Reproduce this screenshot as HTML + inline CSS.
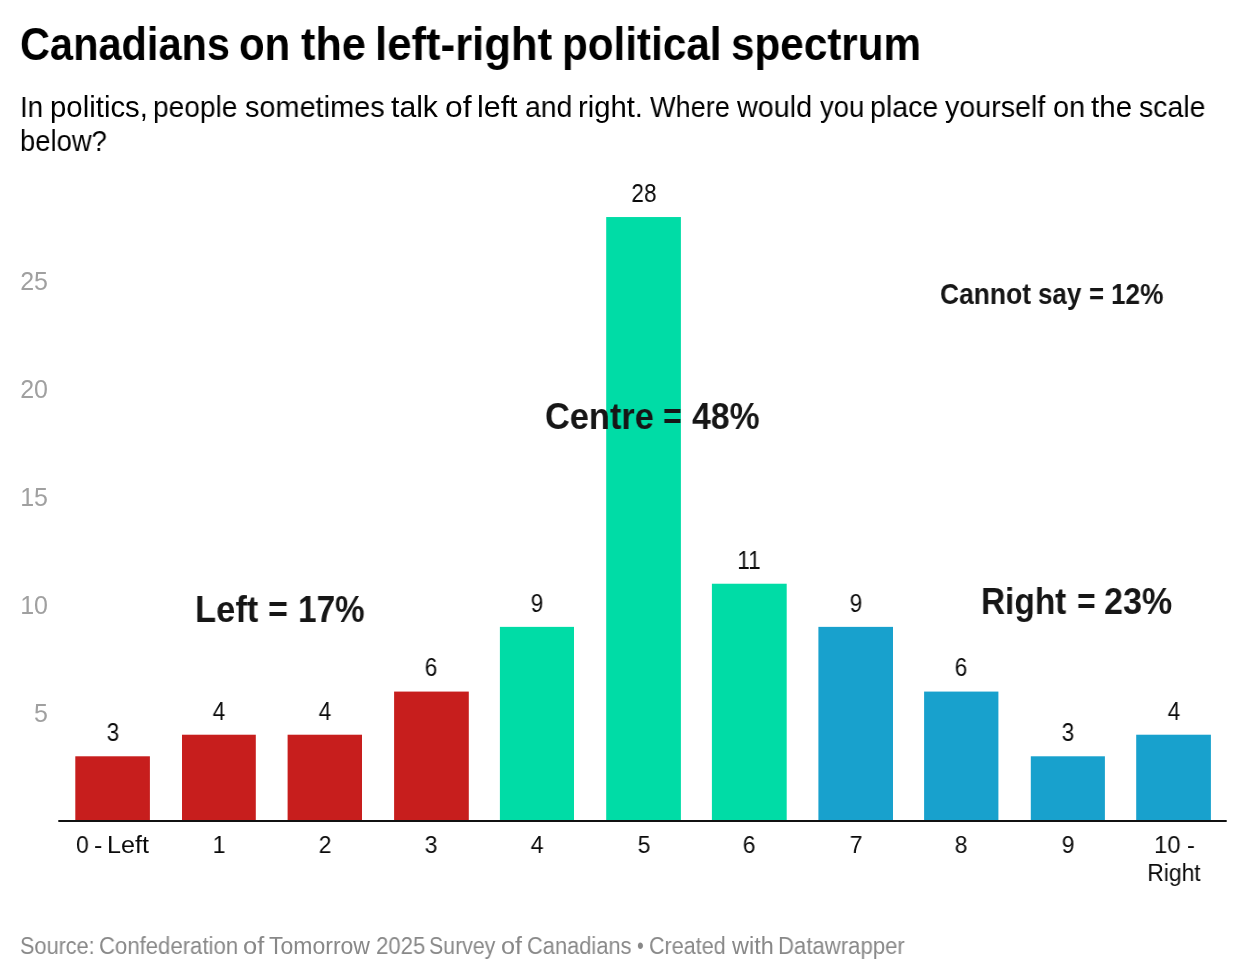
<!DOCTYPE html>
<html><head><meta charset="utf-8">
<style>
html,body{margin:0;padding:0;background:#fff;}
body{width:1247px;height:980px;position:relative;overflow:hidden;font-family:"Liberation Sans",sans-serif;}
.t{position:absolute;white-space:nowrap;line-height:1;will-change:transform;}
.w{position:absolute;white-space:nowrap;line-height:1;will-change:transform;transform-origin:0 0;}
svg{position:absolute;left:0;top:0;}
</style></head><body>
<svg width="1247" height="980" viewBox="0 0 1247 980">
<rect x="75.30" y="756.29" width="74.60" height="65.21" fill="#c71e1d"/>
<rect x="182.00" y="734.72" width="73.80" height="86.78" fill="#c71e1d"/>
<rect x="287.60" y="734.72" width="74.40" height="86.78" fill="#c71e1d"/>
<rect x="394.10" y="691.58" width="74.70" height="129.92" fill="#c71e1d"/>
<rect x="499.90" y="626.87" width="74.10" height="194.63" fill="#00dca6"/>
<rect x="606.20" y="217.04" width="74.70" height="604.46" fill="#00dca6"/>
<rect x="711.90" y="583.73" width="74.80" height="237.77" fill="#00dca6"/>
<rect x="818.40" y="626.87" width="74.60" height="194.63" fill="#18a1cd"/>
<rect x="924.10" y="691.58" width="74.30" height="129.92" fill="#18a1cd"/>
<rect x="1030.80" y="756.29" width="74.10" height="65.21" fill="#18a1cd"/>
<rect x="1136.20" y="734.72" width="74.70" height="86.78" fill="#18a1cd"/>
<rect x="58.3" y="820" width="1168.4" height="2" fill="#111"/>
</svg>
<div class="w" style="left:19.99px;top:21.98px;font-size:45.5px;font-weight:700;color:#000;transform:scaleX(0.9127)">Canadians</div>
<div class="w" style="left:239.36px;top:21.98px;font-size:45.5px;font-weight:700;color:#000;transform:scaleX(0.9211)">on</div>
<div class="w" style="left:300.51px;top:21.98px;font-size:45.5px;font-weight:700;color:#000;transform:scaleX(0.9497)">the</div>
<div class="w" style="left:374.53px;top:21.98px;font-size:45.5px;font-weight:700;color:#000;transform:scaleX(0.9607)">left-right</div>
<div class="w" style="left:561.85px;top:21.98px;font-size:45.5px;font-weight:700;color:#000;transform:scaleX(0.9278)">political</div>
<div class="w" style="left:731.37px;top:21.98px;font-size:45.5px;font-weight:700;color:#000;transform:scaleX(0.9285)">spectrum</div>
<div class="w" style="left:19.80px;top:92.78px;font-size:29.2px;font-weight:400;color:#000;transform:scaleX(0.9547)">In</div>
<div class="w" style="left:50.02px;top:92.78px;font-size:29.2px;font-weight:400;color:#000;transform:scaleX(1.0063)">politics,</div>
<div class="w" style="left:153.35px;top:92.78px;font-size:29.2px;font-weight:400;color:#000;transform:scaleX(0.9620)">people</div>
<div class="w" style="left:245.11px;top:92.78px;font-size:29.2px;font-weight:400;color:#000;transform:scaleX(0.9899)">sometimes</div>
<div class="w" style="left:391.03px;top:92.78px;font-size:29.2px;font-weight:400;color:#000;transform:scaleX(1.0339)">talk</div>
<div class="w" style="left:444.71px;top:92.78px;font-size:29.2px;font-weight:400;color:#000;transform:scaleX(1.0908)">of</div>
<div class="w" style="left:477.04px;top:92.78px;font-size:29.2px;font-weight:400;color:#000;transform:scaleX(1.0417)">left</div>
<div class="w" style="left:524.75px;top:92.78px;font-size:29.2px;font-weight:400;color:#000;transform:scaleX(0.9703)">and</div>
<div class="w" style="left:578.25px;top:92.78px;font-size:29.2px;font-weight:400;color:#000;transform:scaleX(1.0015)">right.</div>
<div class="w" style="left:650.39px;top:92.78px;font-size:29.2px;font-weight:400;color:#000;transform:scaleX(0.9291)">Where</div>
<div class="w" style="left:737.33px;top:92.78px;font-size:29.2px;font-weight:400;color:#000;transform:scaleX(0.9859)">would</div>
<div class="w" style="left:819.55px;top:92.78px;font-size:29.2px;font-weight:400;color:#000;transform:scaleX(0.9434)">you</div>
<div class="w" style="left:870.32px;top:92.78px;font-size:29.2px;font-weight:400;color:#000;transform:scaleX(0.9785)">place</div>
<div class="w" style="left:945.38px;top:92.78px;font-size:29.2px;font-weight:400;color:#000;transform:scaleX(0.9825)">yourself</div>
<div class="w" style="left:1052.82px;top:92.78px;font-size:29.2px;font-weight:400;color:#000;transform:scaleX(0.9887)">on</div>
<div class="w" style="left:1090.72px;top:92.78px;font-size:29.2px;font-weight:400;color:#000;transform:scaleX(1.0131)">the</div>
<div class="w" style="left:1138.52px;top:92.78px;font-size:29.2px;font-weight:400;color:#000;transform:scaleX(0.9741)">scale</div>
<div class="w" style="left:19.87px;top:127.08px;font-size:29.2px;font-weight:400;color:#000;transform:scaleX(0.9387)">below?</div>
<div class="w" style="left:19.70px;top:935.23px;font-size:23.0px;font-weight:400;color:#888;transform:scaleX(0.9426)">Source:</div>
<div class="w" style="left:99.42px;top:935.23px;font-size:23.0px;font-weight:400;color:#888;transform:scaleX(0.9626)">Confederation</div>
<div class="w" style="left:242.58px;top:935.23px;font-size:23.0px;font-weight:400;color:#888;transform:scaleX(1.1069)">of</div>
<div class="w" style="left:268.64px;top:935.23px;font-size:23.0px;font-weight:400;color:#888;transform:scaleX(0.9996)">Tomorrow</div>
<div class="w" style="left:375.54px;top:935.23px;font-size:23.0px;font-weight:400;color:#888;transform:scaleX(0.9659)">2025</div>
<div class="w" style="left:429.00px;top:935.23px;font-size:23.0px;font-weight:400;color:#888;transform:scaleX(0.9274)">Survey</div>
<div class="w" style="left:500.66px;top:935.23px;font-size:23.0px;font-weight:400;color:#888;transform:scaleX(1.0966)">of</div>
<div class="w" style="left:526.59px;top:935.23px;font-size:23.0px;font-weight:400;color:#888;transform:scaleX(0.9497)">Canadians</div>
<div class="w" style="left:636.58px;top:935.23px;font-size:23.0px;font-weight:400;color:#888;transform:scaleX(0.8243)">&bull;</div>
<div class="w" style="left:649.01px;top:935.23px;font-size:23.0px;font-weight:400;color:#888;transform:scaleX(0.9374)">Created</div>
<div class="w" style="left:731.71px;top:935.23px;font-size:23.0px;font-weight:400;color:#888;transform:scaleX(1.0191)">with</div>
<div class="w" style="left:778.41px;top:935.23px;font-size:23.0px;font-weight:400;color:#888;transform:scaleX(0.9625)">Datawrapper</div>
<div class="w" style="left:939.86px;top:279.11px;font-size:29.4px;font-weight:700;color:#161616;transform:scaleX(0.8985)">Cannot</div>
<div class="w" style="left:1037.81px;top:279.11px;font-size:29.4px;font-weight:700;color:#161616;transform:scaleX(0.8834)">say</div>
<div class="w" style="left:1088.94px;top:279.11px;font-size:29.4px;font-weight:700;color:#161616;transform:scaleX(0.8817)">=</div>
<div class="w" style="left:1111.29px;top:279.11px;font-size:29.4px;font-weight:700;color:#161616;transform:scaleX(0.8903)">12%</div>
<div class="w" style="left:544.84px;top:397.99px;font-size:37.8px;font-weight:700;color:#161616;transform:scaleX(0.9087)">Centre</div>
<div class="w" style="left:663.14px;top:397.99px;font-size:37.8px;font-weight:700;color:#161616;transform:scaleX(0.8469)">=</div>
<div class="w" style="left:692.05px;top:397.99px;font-size:37.8px;font-weight:700;color:#161616;transform:scaleX(0.8942)">48%</div>
<div class="w" style="left:194.94px;top:591.10px;font-size:37.2px;font-weight:700;color:#161616;transform:scaleX(0.9287)">Left</div>
<div class="w" style="left:268.46px;top:591.10px;font-size:37.2px;font-weight:700;color:#161616;transform:scaleX(0.9179)">=</div>
<div class="w" style="left:298.08px;top:591.10px;font-size:37.2px;font-weight:700;color:#161616;transform:scaleX(0.8959)">17%</div>
<div class="w" style="left:980.66px;top:583.00px;font-size:37.2px;font-weight:700;color:#161616;transform:scaleX(0.8982)">Right</div>
<div class="w" style="left:1076.53px;top:583.00px;font-size:37.2px;font-weight:700;color:#161616;transform:scaleX(0.8634)">=</div>
<div class="w" style="left:1104.23px;top:583.00px;font-size:37.2px;font-weight:700;color:#161616;transform:scaleX(0.9180)">23%</div>
<div class="w" style="left:75.87px;top:832.67px;font-size:24.6px;font-weight:400;color:#0a0a0a;transform:scaleX(0.9349)">0</div>
<div class="w" style="left:94.06px;top:832.67px;font-size:24.6px;font-weight:400;color:#0a0a0a;transform:scaleX(1.0211)">-</div>
<div class="w" style="left:107.33px;top:832.67px;font-size:24.6px;font-weight:400;color:#0a0a0a;transform:scaleX(1.0236)">Left</div>
<div class="w" style="left:1153.60px;top:832.67px;font-size:24.6px;font-weight:400;color:#0a0a0a;transform:scaleX(0.9685)">10</div>
<div class="w" style="left:1186.67px;top:832.67px;font-size:24.6px;font-weight:400;color:#0a0a0a;transform:scaleX(0.9589)">-</div>
<div class="t" style="left:-252.00px;width:300px;text-align:right;top:700.88px;font-size:25px;font-weight:400;color:#a0a0a0;transform:scaleX(1.0000);transform-origin:100% 0">5</div>
<div class="t" style="left:-252.00px;width:300px;text-align:right;top:593.03px;font-size:25px;font-weight:400;color:#a0a0a0;transform:scaleX(1.0000);transform-origin:100% 0">10</div>
<div class="t" style="left:-252.00px;width:300px;text-align:right;top:485.18px;font-size:25px;font-weight:400;color:#a0a0a0;transform:scaleX(1.0000);transform-origin:100% 0">15</div>
<div class="t" style="left:-252.00px;width:300px;text-align:right;top:377.33px;font-size:25px;font-weight:400;color:#a0a0a0;transform:scaleX(1.0000);transform-origin:100% 0">20</div>
<div class="t" style="left:-252.00px;width:300px;text-align:right;top:269.48px;font-size:25px;font-weight:400;color:#a0a0a0;transform:scaleX(1.0000);transform-origin:100% 0">25</div>
<div class="t" style="left:-37.40px;width:300px;text-align:center;top:720.12px;font-size:25px;font-weight:400;color:#0a0a0a;transform:scaleX(0.9000);transform-origin:50% 0">3</div>
<div class="t" style="left:68.90px;width:300px;text-align:center;top:698.55px;font-size:25px;font-weight:400;color:#0a0a0a;transform:scaleX(0.9000);transform-origin:50% 0">4</div>
<div class="t" style="left:174.80px;width:300px;text-align:center;top:698.55px;font-size:25px;font-weight:400;color:#0a0a0a;transform:scaleX(0.9000);transform-origin:50% 0">4</div>
<div class="t" style="left:281.45px;width:300px;text-align:center;top:655.41px;font-size:25px;font-weight:400;color:#0a0a0a;transform:scaleX(0.9000);transform-origin:50% 0">6</div>
<div class="t" style="left:386.95px;width:300px;text-align:center;top:590.70px;font-size:25px;font-weight:400;color:#0a0a0a;transform:scaleX(0.9000);transform-origin:50% 0">9</div>
<div class="t" style="left:493.55px;width:300px;text-align:center;top:180.87px;font-size:25px;font-weight:400;color:#0a0a0a;transform:scaleX(0.9000);transform-origin:50% 0">28</div>
<div class="t" style="left:599.30px;width:300px;text-align:center;top:547.56px;font-size:25px;font-weight:400;color:#0a0a0a;transform:scaleX(0.9000);transform-origin:50% 0">11</div>
<div class="t" style="left:705.70px;width:300px;text-align:center;top:590.70px;font-size:25px;font-weight:400;color:#0a0a0a;transform:scaleX(0.9000);transform-origin:50% 0">9</div>
<div class="t" style="left:811.25px;width:300px;text-align:center;top:655.41px;font-size:25px;font-weight:400;color:#0a0a0a;transform:scaleX(0.9000);transform-origin:50% 0">6</div>
<div class="t" style="left:917.85px;width:300px;text-align:center;top:720.12px;font-size:25px;font-weight:400;color:#0a0a0a;transform:scaleX(0.9000);transform-origin:50% 0">3</div>
<div class="t" style="left:1023.55px;width:300px;text-align:center;top:698.55px;font-size:25px;font-weight:400;color:#0a0a0a;transform:scaleX(0.9000);transform-origin:50% 0">4</div>
<div class="t" style="left:68.90px;width:300px;text-align:center;top:832.67px;font-size:24.6px;font-weight:400;color:#0a0a0a;transform:scaleX(0.9300);transform-origin:50% 0">1</div>
<div class="t" style="left:174.80px;width:300px;text-align:center;top:832.67px;font-size:24.6px;font-weight:400;color:#0a0a0a;transform:scaleX(0.9300);transform-origin:50% 0">2</div>
<div class="t" style="left:281.45px;width:300px;text-align:center;top:832.67px;font-size:24.6px;font-weight:400;color:#0a0a0a;transform:scaleX(0.9300);transform-origin:50% 0">3</div>
<div class="t" style="left:386.95px;width:300px;text-align:center;top:832.67px;font-size:24.6px;font-weight:400;color:#0a0a0a;transform:scaleX(0.9300);transform-origin:50% 0">4</div>
<div class="t" style="left:493.55px;width:300px;text-align:center;top:832.67px;font-size:24.6px;font-weight:400;color:#0a0a0a;transform:scaleX(0.9300);transform-origin:50% 0">5</div>
<div class="t" style="left:599.30px;width:300px;text-align:center;top:832.67px;font-size:24.6px;font-weight:400;color:#0a0a0a;transform:scaleX(0.9300);transform-origin:50% 0">6</div>
<div class="t" style="left:705.70px;width:300px;text-align:center;top:832.67px;font-size:24.6px;font-weight:400;color:#0a0a0a;transform:scaleX(0.9300);transform-origin:50% 0">7</div>
<div class="t" style="left:811.25px;width:300px;text-align:center;top:832.67px;font-size:24.6px;font-weight:400;color:#0a0a0a;transform:scaleX(0.9300);transform-origin:50% 0">8</div>
<div class="t" style="left:917.85px;width:300px;text-align:center;top:832.67px;font-size:24.6px;font-weight:400;color:#0a0a0a;transform:scaleX(0.9300);transform-origin:50% 0">9</div>
<div class="t" style="left:1023.55px;width:300px;text-align:center;top:861.07px;font-size:24.6px;font-weight:400;color:#0a0a0a;transform:scaleX(0.9300);transform-origin:50% 0">Right</div>
</body></html>
